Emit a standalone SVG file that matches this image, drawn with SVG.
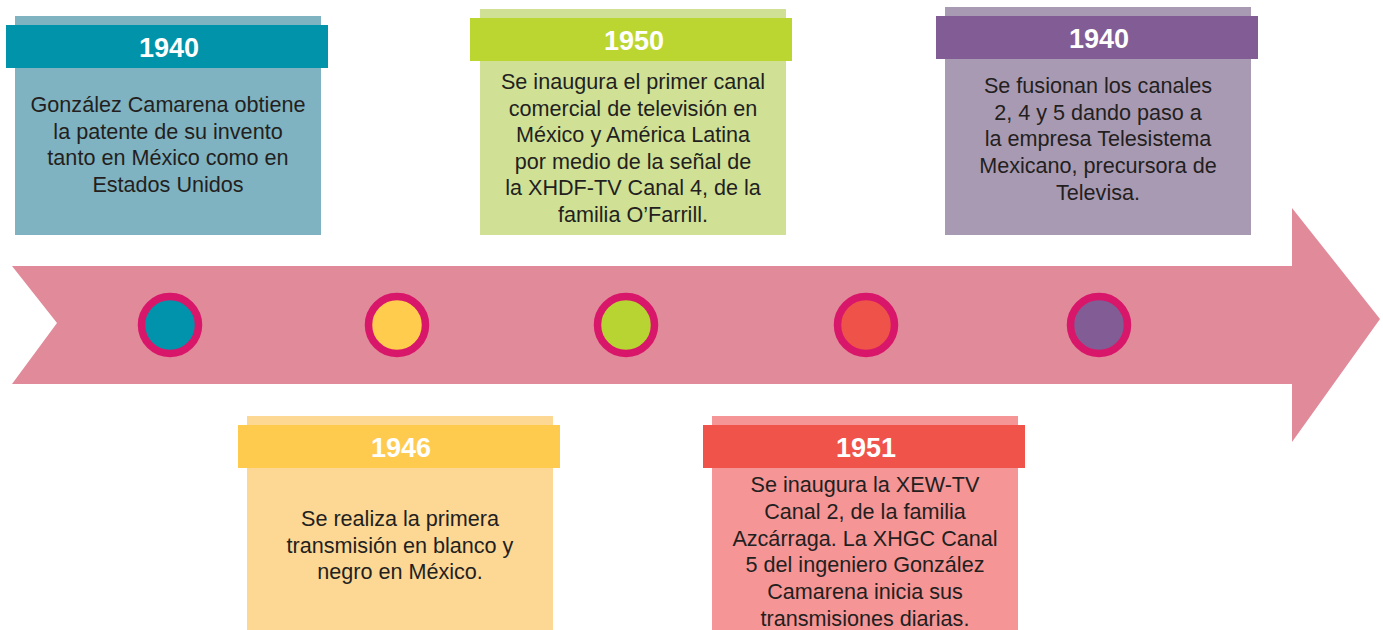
<svg xmlns="http://www.w3.org/2000/svg" width="1383" height="630" viewBox="0 0 1383 630">
<style>
.title{font-family:"Liberation Sans",Arial,sans-serif;font-weight:bold;font-size:27px;fill:#ffffff;text-anchor:middle}
.body{font-family:"Liberation Sans",Arial,sans-serif;font-size:21.6px;fill:#231f20;text-anchor:middle}
.dot{stroke:#d8176b;stroke-width:7.5}
</style>
<rect width="1383" height="630" fill="#ffffff"/>
<g id="timeline">
<polygon points="12,266 1292,266 1292,208 1380,319 1292,442 1292,384 12,384 57,323" fill="#e18a9a"/>
<circle class="dot" cx="170" cy="325" r="28.5" fill="#0093ab"/>
<circle class="dot" cx="397" cy="325" r="28.5" fill="#ffcc4e"/>
<circle class="dot" cx="626" cy="325" r="28.5" fill="#b8d432"/>
<circle class="dot" cx="866" cy="325" r="28.5" fill="#ef5248"/>
<circle class="dot" cx="1099" cy="325" r="28.5" fill="#825c94"/>
</g>
<g id="connectors"></g>
<g id="box1940a">
<rect x="15" y="16" width="306" height="219" fill="#7fb3c1"/>
<rect x="6" y="25" width="322" height="43" fill="#0093a9"/>
<text class="title" x="169" y="57">1940</text>
<text class="body" x="168" y="112">González Camarena obtiene</text>
<text class="body" x="168" y="138.7">la patente de su invento</text>
<text class="body" x="168" y="165.4">tanto en México como en</text>
<text class="body" x="168" y="192">Estados Unidos</text>
</g>
<g id="box1950">
<rect x="480" y="9" width="306" height="226" fill="#d0e196"/>
<rect x="470" y="18" width="322" height="43" fill="#bcd631"/>
<text class="title" x="634" y="50">1950</text>
<text class="body" x="633" y="89">Se inaugura el primer canal</text>
<text class="body" x="633" y="115.6">comercial de televisión en</text>
<text class="body" x="633" y="142.2">México y América Latina</text>
<text class="body" x="633" y="168.8">por medio de la señal de</text>
<text class="body" x="633" y="195.4">la XHDF-TV Canal 4, de la</text>
<text class="body" x="633" y="222">familia O’Farrill.</text>
</g>
<g id="box1940b">
<rect x="945" y="7" width="306" height="228" fill="#a99ab3"/>
<rect x="936" y="16" width="322" height="43" fill="#825c94"/>
<text class="title" x="1099" y="48">1940</text>
<text class="body" x="1098" y="93">Se fusionan los canales</text>
<text class="body" x="1098" y="119.7">2, 4 y 5 dando paso a</text>
<text class="body" x="1098" y="146.4">la empresa Telesistema</text>
<text class="body" x="1098" y="173.1">Mexicano, precursora de</text>
<text class="body" x="1098" y="200">Televisa.</text>
</g>
<g id="box1946">
<rect x="247" y="416" width="306" height="214" fill="#fdd794"/>
<rect x="238" y="425" width="322" height="43" fill="#ffcb4f"/>
<text class="title" x="401" y="457">1946</text>
<text class="body" x="400" y="526">Se realiza la primera</text>
<text class="body" x="400" y="552.6">transmisión en blanco y</text>
<text class="body" x="400" y="579">negro en México.</text>
</g>
<g id="box1951">
<rect x="712" y="416" width="306" height="214" fill="#f59596"/>
<rect x="703" y="425" width="322" height="43" fill="#f05349"/>
<text class="title" x="866" y="457">1951</text>
<text class="body" x="865" y="492">Se inaugura la XEW-TV</text>
<text class="body" x="865" y="518.8">Canal 2, de la familia</text>
<text class="body" x="865" y="545.6">Azcárraga. La XHGC Canal</text>
<text class="body" x="865" y="572.4">5 del ingeniero González</text>
<text class="body" x="865" y="599.2">Camarena inicia sus</text>
<text class="body" x="865" y="626">transmisiones diarias.</text>
</g>
</svg>
